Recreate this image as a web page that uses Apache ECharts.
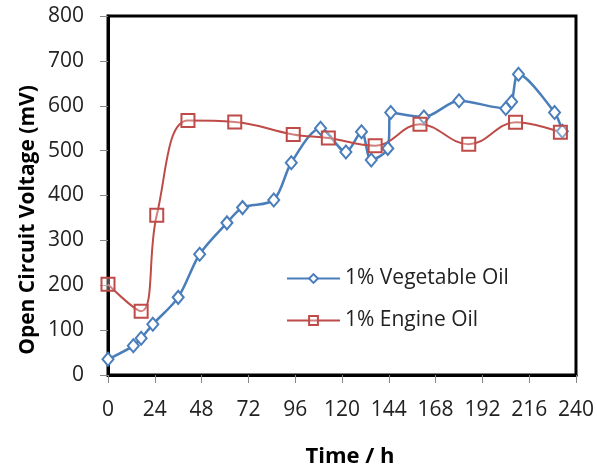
<!DOCTYPE html>
<html>
<head>
<meta charset="utf-8">
<script src="https://cdn.jsdelivr.net/npm/echarts@6/dist/echarts.min.js"></script>
<style>html,body{margin:0;padding:0;background:#fff}#c{width:597px;height:470px}</style>
</head>
<body>
<div id="c"></div>
<script>
var xTicks = [0, 24, 48, 72, 96, 120, 144, 168, 192, 216, 240];
var yTicks = [0, 100, 200, 300, 400, 500, 600, 700, 800];
var vegHours = [0, 13, 17, 23, 36, 47, 61, 69, 85, 94, 109, 122, 130, 135, 143.5, 145, 162, 180, 204, 207, 210.5, 229, 233];
var vegMv = [35, 65, 82, 113, 173, 269, 339, 373, 390, 473, 550, 497, 542, 479, 505, 585, 575, 611, 594, 609, 670, 585, 543];
var engHours = [0, 17, 25, 41, 65, 95, 113, 137, 160, 185, 209, 232];
var engMv = [202, 142, 356, 567, 564, 536, 528, 511, 559, 514, 563, 541];
var seriesNames = ['1% Vegetable Oil', '1% Engine Oil'];

function pairs(xs, ys){ return xs.map(function(x,i){ return [x, ys[i]]; }); }

var FONT = 'Open Sans';
var chart = echarts.init(document.getElementById('c'), null, {renderer:'canvas'});
chart.setOption({
  animation: false,
  grid: {left:108, top:16, right:20, bottom:95, show:true, borderColor:'#000', borderWidth:3, backgroundColor:'#fff'},
  xAxis: {
    type:'value', min:xTicks[0], max:xTicks[xTicks.length-1], interval:24,
    axisLine:{show:true, onZero:false, lineStyle:{color:'#000', width:3}},
    axisTick:{show:true, length:8, lineStyle:{color:'#888', width:1}},
    axisLabel:{fontFamily:FONT, fontSize:21, color:'#222', margin:25},
    splitLine:{show:false}
  },
  yAxis: {
    type:'value', min:yTicks[0], max:yTicks[yTicks.length-1], interval:100,
    axisLine:{show:true, onZero:false, lineStyle:{color:'#000', width:3}},
    axisTick:{show:true, length:8, lineStyle:{color:'#888', width:1}},
    axisLabel:{fontFamily:FONT, fontSize:21, color:'#222', margin:24},
    splitLine:{show:false}
  },
  legend: {
    orient:'vertical', left:281, top:263, itemGap:21, itemWidth:53, itemHeight:11,
    textStyle:{fontFamily:FONT, fontSize:21, color:'#222'},
    data: seriesNames
  },
  graphic: [
    {type:'text', x:28, y:220, rotation:Math.PI/2,
     style:{text:'Open Circuit Voltage (mV)', fontFamily:FONT, fontSize:21, fontWeight:'bold', fill:'#000', align:'center', verticalAlign:'middle'}},
    {type:'text', x:350, y:457,
     style:{text:'Time / h', fontFamily:FONT, fontSize:22, fontWeight:'bold', fill:'#000', align:'center', verticalAlign:'middle'}}
  ],
  series: [
    {name:seriesNames[0], type:'line', smooth:0.3, data:pairs(vegHours, vegMv),
     symbol:'diamond', symbolSize:[11,13],
     lineStyle:{color:'#4a7ebb', width:2.5},
     itemStyle:{color:'#fff', borderColor:'#4a7ebb', borderWidth:2}},
    {name:seriesNames[1], type:'line', smooth:0.4, data:pairs(engHours, engMv),
     symbol:'rect', symbolSize:13,
     lineStyle:{color:'#be4b48', width:2},
     itemStyle:{color:'rgba(255,255,255,0.3)', borderColor:'#be4b48', borderWidth:2}}
  ]
});
</script>
</body>
</html>
